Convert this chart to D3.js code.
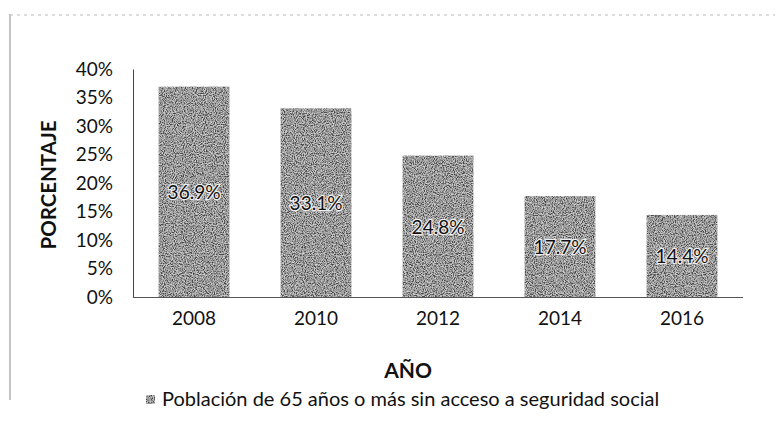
<!DOCTYPE html>
<html><head><meta charset="utf-8">
<script src="https://cdn.jsdelivr.net/npm/d3@7"></script>
<style>
body{margin:0;background:#fff;}
text{font-family:Lato,"Open Sans",sans-serif;}
</style></head>
<body><svg id="c" width="779" height="427"></svg>
<script>
const years = ["2008","2010","2012","2014","2016"];
const values = [36.9, 33.1, 24.8, 17.7, 14.4];
const yTicks = [0,5,10,15,20,25,30,35,40];
const seriesName = "Población de 65 años o más sin acceso a seguridad social";
const yTitle = "PORCENTAJE";
const xTitle = "AÑO";

(function(){
const svg = d3.select("#c");
const defs = svg.append("defs");
const f = defs.append("filter").attr("id","noise").attr("x",0).attr("y",0).attr("width","100%").attr("height","100%");
f.append("feTurbulence").attr("type","fractalNoise").attr("baseFrequency","0.9").attr("numOctaves",2).attr("seed",3).attr("result","t");
f.append("feColorMatrix").attr("in","t").attr("type","matrix")
 .attr("values","0 0 0 0 0  0 0 0 0 0  0 0 0 0 0  0 0 0 -2.4 1.75").attr("result","a");
f.append("feFlood").attr("flood-color","#4a4a4a").attr("result","d");
f.append("feComposite").attr("in","d").attr("in2","a").attr("operator","in").attr("result","dk");
f.append("feFlood").attr("flood-color","#d0d0d0").attr("result","lt");
f.append("feComposite").attr("in","lt").attr("in2","SourceGraphic").attr("operator","in").attr("result","base");
f.append("feComposite").attr("in","dk").attr("in2","SourceGraphic").attr("operator","in").attr("result","dk2");
const m = f.append("feMerge");
m.append("feMergeNode").attr("in","base");
m.append("feMergeNode").attr("in","dk2");

// frame
svg.append("line").attr("x1",10).attr("x2",10).attr("y1",14).attr("y2",400).attr("stroke","#888").attr("stroke-width",1);
svg.append("line").attr("x1",10).attr("x2",775).attr("y1",15).attr("y2",15).attr("stroke","#bbb").attr("stroke-width",1).attr("stroke-dasharray","3,4");

const pLeft = 133, pRight = 743, pTop = 69, pBottom = 297;
const x = d3.scaleBand().domain(years).range([pLeft,pRight]).paddingInner(0.42).paddingOuter(0.21);
const y = d3.scaleLinear().domain([0,40]).range([pBottom,pTop]);

const yAxis = svg.append("g").attr("transform",`translate(${pLeft},0)`)
 .call(d3.axisLeft(y).tickValues(yTicks).tickFormat(d=>d+"%").tickSize(0).tickPadding(20));
yAxis.select(".domain").attr("stroke","#444");
yAxis.selectAll("text").attr("font-size",19).attr("fill","#111");

svg.selectAll("rect.bar").data(values).join("rect").attr("class","bar")
 .attr("x",(d,i)=>x(years[i])).attr("width",x.bandwidth())
 .attr("y",d=>y(d)).attr("height",d=>pBottom-y(d))
 .attr("fill","#999").attr("filter","url(#noise)");

const xAxis = svg.append("g").attr("transform",`translate(0,${pBottom})`)
 .call(d3.axisBottom(x).tickSize(0).tickPadding(15));
xAxis.select(".domain").attr("stroke","#555").attr("d",`M${pLeft},0.5H${pRight}`);
xAxis.selectAll("text").attr("font-size",19).attr("fill","#111");

svg.selectAll("text.lbl").data(values).join("text").attr("class","lbl")
 .attr("x",(d,i)=>x(years[i])+x.bandwidth()/2).attr("y",d=>(y(d)+pBottom)/2)
 .attr("text-anchor","middle").attr("dominant-baseline","central")
 .attr("font-size",19).attr("fill","#111")
 .attr("stroke","#eee").attr("stroke-width",2.5).attr("paint-order","stroke")
 .text(d=>d.toFixed(1)+"%");

svg.append("text").attr("transform","translate(56,185) rotate(-90)")
 .attr("text-anchor","middle").attr("font-size",20.5).attr("font-weight","bold").attr("fill","#111").text(yTitle);
svg.append("text").attr("x",408).attr("y",378).attr("text-anchor","middle")
 .attr("font-size",21).attr("font-weight","bold").attr("fill","#111").text(xTitle);

svg.append("rect").attr("x",146).attr("y",395).attr("width",9).attr("height",9).attr("fill","#999").attr("filter","url(#noise)");
svg.append("text").attr("x",162).attr("y",406).attr("font-size",20).attr("fill","#111").text(seriesName);
})();
</script></body></html>
